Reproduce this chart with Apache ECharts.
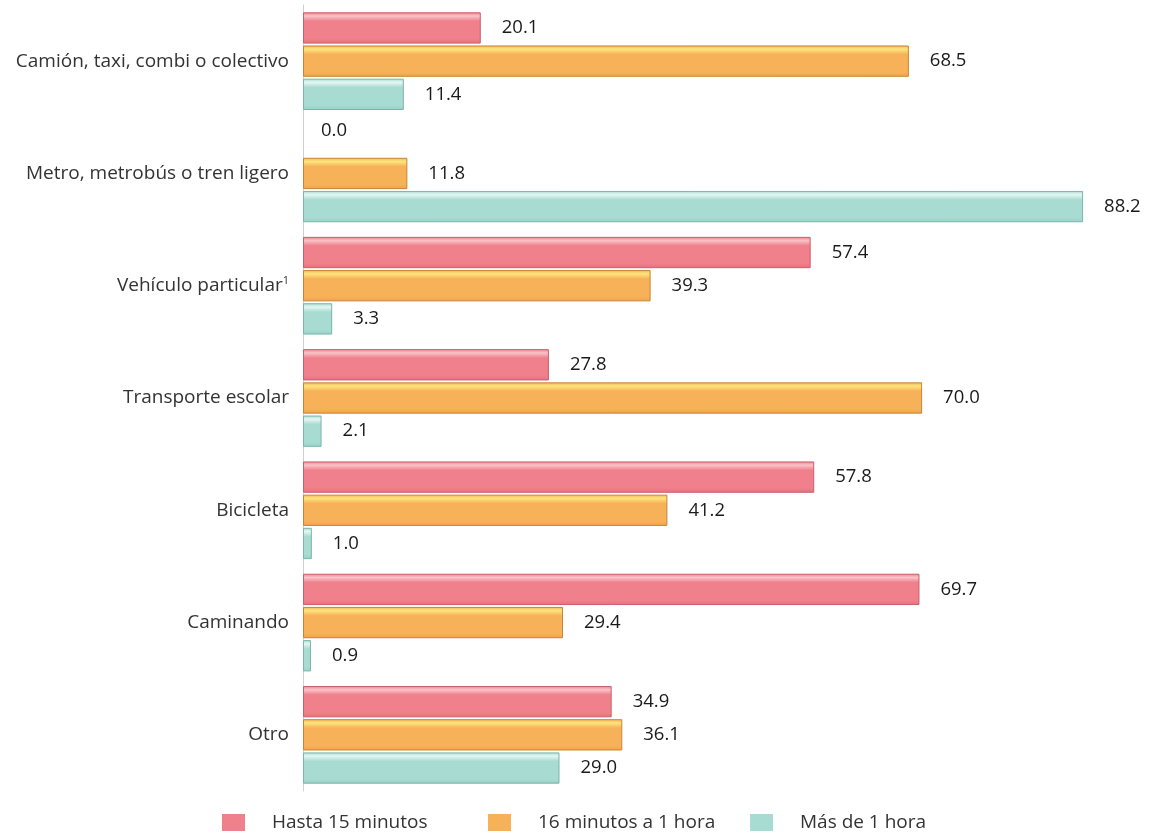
<!DOCTYPE html>
<html><head><meta charset="utf-8">
<script src="https://cdn.jsdelivr.net/npm/echarts@6/dist/echarts.min.js"></script>
<style>html,body{margin:0;padding:0;background:#fff}#c{width:1149px;height:833px}</style>
</head><body><div id="c"></div>
<script>
const categories = ["Camión, taxi, combi o colectivo","Metro, metrobús o tren ligero","Vehículo particular{sup|1}","Transporte escolar","Bicicleta","Caminando","Otro"];
const seriesNames = ["Hasta 15 minutos","16 minutos a 1 hora","Más de 1 hora"];
const hasta15 = [20.1, 0.0, 57.4, 27.8, 57.8, 69.7, 34.9];
const de16a60 = [68.5, 11.8, 39.3, 70.0, 41.2, 29.4, 36.1];
const masDe1h = [11.4, 88.2, 3.3, 2.1, 1.0, 0.9, 29.0];
const values = [hasta15, de16a60, masDe1h];

const FONT = "Open Sans";
const base = ["#F0808B", "#F7B259", "#A8DCD3"];
const tops = ["#F9C3C8", "#FCE57E", "#E6F6F2"];
const bottoms = ["#E7707C", "#F1A24A", "#98D0C7"];
const borders = ["#C8606C", "#C68636", "#7CB5AB"];

function grad(i){
  return new echarts.graphic.LinearGradient(0,0,0,1,[
    {offset:0, color: base[i]},
    {offset:0.12, color: tops[i]},
    {offset:0.28, color: base[i]},
    {offset:0.85, color: base[i]},
    {offset:1, color: bottoms[i]}
  ]);
}

const series = values.map((v,i)=>({
  name: seriesNames[i],
  type: 'bar',
  data: v.map(x => x === 0
    ? {value:x, itemStyle:{borderWidth:0}, label:{offset:[-3,-10]}}
    : x),
  barCategoryGap: '13%',
  barGap: '6%',
  itemStyle: {color: grad(i), borderColor: borders[i], borderWidth: 1},
  label: {show:true, position:'right', distance:21, formatter: p=>p.value.toFixed(1),
    color:'#1a1a1a', fontSize:18.5, fontFamily:FONT},
  emphasis:{disabled:true}
}));

const legendLefts = [222, 488, 750];
const legends = seriesNames.map((n,i)=>({
  data:[{name:n, itemStyle:{color:base[i], borderWidth:0}}],
  left: legendLefts[i], top: 813, padding:0, itemWidth:23, itemHeight:17, itemGap:0,
  icon:'rect',
  textStyle:{color:'#333', fontSize:19, fontFamily:FONT, padding:[0,0,0,22]}
}));

const chart = echarts.init(document.getElementById('c'), null, {renderer:'canvas'});
chart.setOption({
  animation:false,
  color: base,
  grid:{left:303, right:50, top:5, bottom:42, containLabel:false},
  legend: legends,
  xAxis:{type:'value', min:0, max:90, show:false},
  yAxis:{type:'category', data:categories, inverse:true,
    axisLine:{show:true, lineStyle:{color:'#d0d0d0', width:1}},
    axisTick:{show:false},
    axisLabel:{color:'#333', fontSize:19, fontFamily:FONT, margin:14,
      rich:{sup:{fontSize:11, verticalAlign:'top', padding:[0,0,9,0], color:'#333', fontFamily:FONT}}}
  },
  series: series
});
</script></body></html>
